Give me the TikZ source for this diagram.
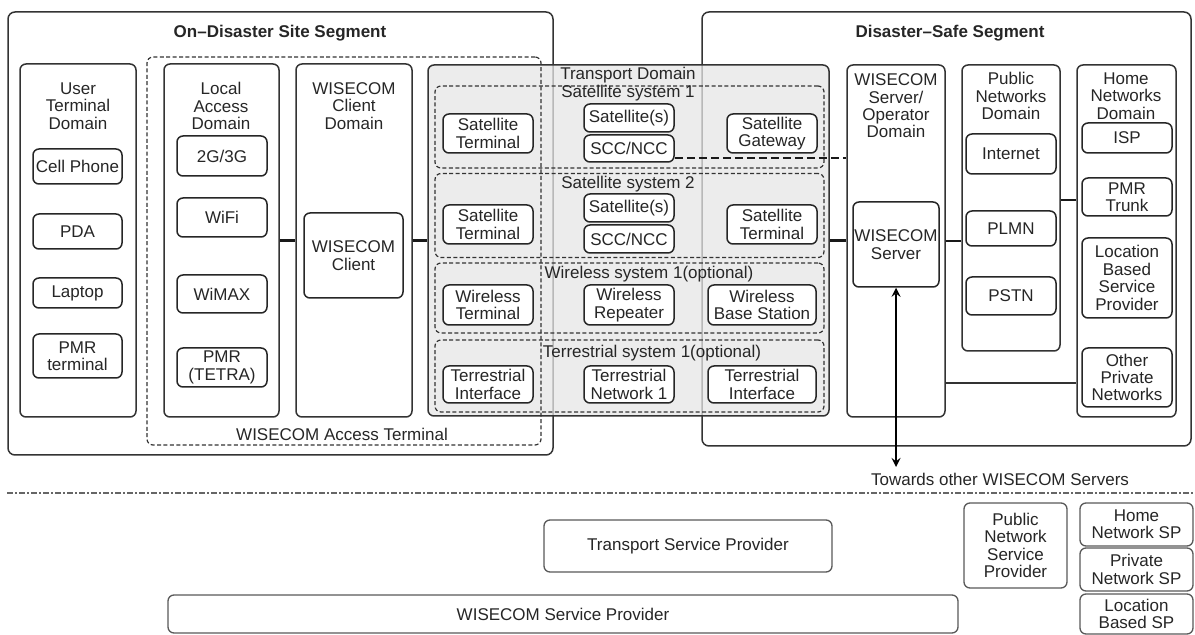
\documentclass[tikz,border=0pt]{standalone}
\usepackage{fontspec}
\setmainfont{Liberation Sans}
\usetikzlibrary{shapes.geometric,arrows,calc}
\tikzstyle{segbox} = [rectangle, rounded corners=3.5pt, draw=black!80, line width=0.75pt]
\tikzstyle{dombox} = [rectangle, rounded corners=3pt, draw=black!80, line width=0.75pt, minimum width=49pt, minimum height=176pt]
\tikzstyle{element} = [rectangle, rounded corners=3pt, draw=black!85, line width=0.75pt, fill=white, align=center, inner sep=0pt, minimum width=45pt]
\tikzstyle{provider} = [element, draw=black!65, line width=0.65pt]
\tikzstyle{sysbox} = [rectangle, rounded corners=3pt, draw=black!80, line width=0.6pt, dash pattern=on 2pt off 1.2pt, minimum width=194.5pt]
\tikzstyle{title} = [align=center, inner sep=0pt]
\tikzstyle{link} = [line width=1.2pt, draw=black!90]
\tikzstyle{arrow} = [line width=1pt,<->,>=stealth]

\begin{document}
\begin{tikzpicture}[x=0.5pt, y=-0.5pt, every node/.style={font=\fontsize{8.5}{8.7}\selectfont, text=black!85}]
	\useasboundingbox (0,0) rectangle (1195,635);

	% segments
	\node (site) [segbox, minimum width=272.5pt, minimum height=221.5pt] at (280.5,233.5) {};
	\node (safe) [segbox, minimum width=244.5pt, minimum height=217pt] at (946.5,229) {};
	\node [title, font=\bfseries\fontsize{8.5}{10}\selectfont] at (280,33) {On--Disaster Site Segment};
	\node [title, font=\bfseries\fontsize{8.5}{10}\selectfont] at (950,33) {Disaster--Safe Segment};

	% on-disaster domains
	\node (utd) [dombox, minimum width=58pt, minimum height=176.5pt] at (78,240.5) {};
	\node [title] at (78,106) {User\\Terminal\\Domain};
	\node (lad) [dombox, minimum width=57.5pt, minimum height=176.5pt] at (221.5,240.5) {};
	\node [title] at (221,106) {Local\\Access\\Domain};
	\node (wcd) [dombox, minimum width=58pt, minimum height=176.5pt] at (354,240.5) {};
	\node [title] at (354,106) {WISECOM\\Client\\Domain};

	% transport domain
	\node (td) [dombox, fill=black!10, fill opacity=0.75, minimum width=200.5pt, minimum height=175.5pt] at (628.5,240.5) {};
	\node [title] at (628,75) {Transport Domain};
	\node (acc) [sysbox, minimum width=197pt, minimum height=194pt] at (344,251) {};
	\node [title] at (342,434) {WISECOM Access Terminal};

	\node (sat1) [sysbox, minimum height=41pt] at (629.5,127) {};
	\node [title] at (628,93) {Satellite system 1};
	\node (sat2) [sysbox, minimum height=42pt] at (629.5,215.5) {};
	\node [title] at (628,184) {Satellite system 2};
	\node (wls) [sysbox, minimum height=35pt] at (629.5,298) {};
	\node [title] at (649,274) {Wireless system 1(optional)};
	\node (trs) [sysbox, minimum height=36pt] at (629.5,376) {};
	\node [title] at (652,353) {Terrestrial system 1(optional)};

	% disaster-safe domains
	\node (sod) [dombox] at (896,241) {};
	\node [title] at (896,106) {WISECOM\\Server/\\Operator\\Domain};
	\node (pnd) [dombox, minimum height=143pt] at (1011,208) {};
	\node [title] at (1011,96) {Public\\Networks\\Domain};
	\node (hnd) [dombox, minimum width=49.5pt] at (1126.5,241) {};
	\node [title] at (1126,96) {Home\\Networks\\Domain};

	% user terminals
	\node (cell) [element, minimum width=44.5pt, minimum height=17.5pt] at (77.5,166.5) {Cell Phone};
	\node (pda) [element, minimum width=44.5pt, minimum height=17.5pt] at (77.5,231.5) {PDA};
	\node (laptop) [element, minimum width=44.5pt, minimum height=15pt] at (77.5,293) {Laptop};
	\node (pmrt) [element, minimum width=44.5pt, minimum height=22pt] at (77.5,356) {PMR\\terminal};

	% local access
	\node (g23) [element, minimum height=20pt] at (222,156) {2G/3G};
	\node (wifi) [element, minimum height=19.5pt] at (222,217.5) {WiFi};
	\node (wimax) [element, minimum height=19pt] at (222,294) {WiMAX};
	\node (tetra) [element, minimum height=19.5pt] at (222,367.5) {PMR\\(TETRA)};

	\node (wclient) [element, minimum width=49.5pt, minimum height=42.5pt] at (353.5,255.5) {WISECOM\\Client};

	% transport systems
	\node (st1) [element, minimum height=19.5pt] at (488,133.5) {Satellite\\Terminal};
	\node (sats1) [element, minimum height=14pt] at (629,118) {Satellite(s)};
	\node (scc1) [element, minimum height=13.5pt] at (629,148.5) {SCC/NCC};
	\node (sgw) [element, minimum height=19.5pt] at (772,133.5) {Satellite\\Gateway};

	\node (st2) [element, minimum height=19.5pt] at (488,224.5) {Satellite\\Terminal};
	\node (sats2) [element, minimum height=14pt] at (629,208) {Satellite(s)};
	\node (scc2) [element, minimum height=14pt] at (629,239) {SCC/NCC};
	\node (st3) [element, minimum height=19.5pt] at (772,224.5) {Satellite\\Terminal};

	\node (wt) [element, minimum height=20pt] at (488,305) {Wireless\\Terminal};
	\node (wr) [element, minimum height=20pt] at (629,305) {Wireless\\Repeater};
	\node (wbs) [element, minimum width=54pt, minimum height=20pt] at (762,305) {Wireless\\Base Station};

	\node (ti1) [element, minimum height=18.5pt] at (488,384.5) {Terrestrial\\Interface};
	\node (tn1) [element, minimum height=18.5pt] at (629,384.5) {Terrestrial\\Network 1};
	\node (ti2) [element, minimum width=54pt, minimum height=18.5pt] at (762,384.5) {Terrestrial\\Interface};

	% server, public and home networks
	\node (wserver) [element, minimum width=43pt, minimum height=42.5pt] at (896,244.5) {WISECOM\\Server};

	\node (internet) [element, minimum height=20pt] at (1011,154) {Internet};
	\node (plmn) [element, minimum height=17.5pt] at (1011,228.5) {PLMN};
	\node (pstn) [element, minimum height=19pt] at (1011,296) {PSTN};

	\node (isp) [element, minimum height=15pt] at (1127,138) {ISP};
	\node (trunk) [element, minimum height=19pt] at (1127,197) {PMR\\Trunk};
	\node (lbs) [element, minimum height=40pt] at (1127,278) {Location\\Based\\Service\\Provider};
	\node (opn) [element, minimum height=29.5pt] at (1127,377.5) {Other\\Private\\Networks};

	% connections
	\draw [link] (lad.east) -- (wcd.west);
	\draw [link] (wcd.east) -- (td.west);
	\draw [link] (td.east) -- (td.east -| sod.west);
	\draw [link] (sod.east) -- (sod.east -| pnd.west);
	\draw [link] ([yshift=4pt]pnd.east) -- ([yshift=4pt]pnd.east -| hnd.west);
	\draw [line width=0.75pt, black!80] ([yshift=-71pt]sod.east) -- ([yshift=-71pt]sod.east -| hnd.west);
	\draw [link, dash pattern=on 4pt off 2pt] ([yshift=-4.75pt]scc1.east) -- ([yshift=-4.75pt]scc1.east -| sod.west);

	\coordinate (other) at (896,467);
	\draw [arrow] (wserver.south) -- (other);
	\node at (1000,479) {Towards other WISECOM Servers};

	% separator
	\coordinate (sepL) at (7,493);
	\coordinate (sepR) at (1195,493);
	\draw [black!60, line width=0.6pt, dash pattern=on 3pt off 1.2pt on 0.6pt off 1.2pt] (sepL) -- (sepR);

	% service providers
	\node (tsp) [provider, minimum width=144pt, minimum height=26pt] at (688,546) {Transport Service Provider};
	\node (wsp) [provider, minimum width=395pt, minimum height=19pt] at (563,614) {WISECOM Service Provider};
	\node (pnsp) [provider, minimum width=51.5pt, minimum height=42.5pt] at (1015.5,545.5) {Public\\Network\\Service\\Provider};
	\node (hnsp) [provider, minimum width=56.5pt, minimum height=21.5pt] at (1136.5,524.5) {Home\\Network SP};
	\node (prsp) [provider, minimum width=56.5pt, minimum height=21.5pt] at (1136.5,569.5) {Private\\Network SP};
	\node (lbsp) [provider, minimum width=56.5pt, minimum height=20pt] at (1136.5,614) {Location\\Based SP};
\end{tikzpicture}
\end{document}
